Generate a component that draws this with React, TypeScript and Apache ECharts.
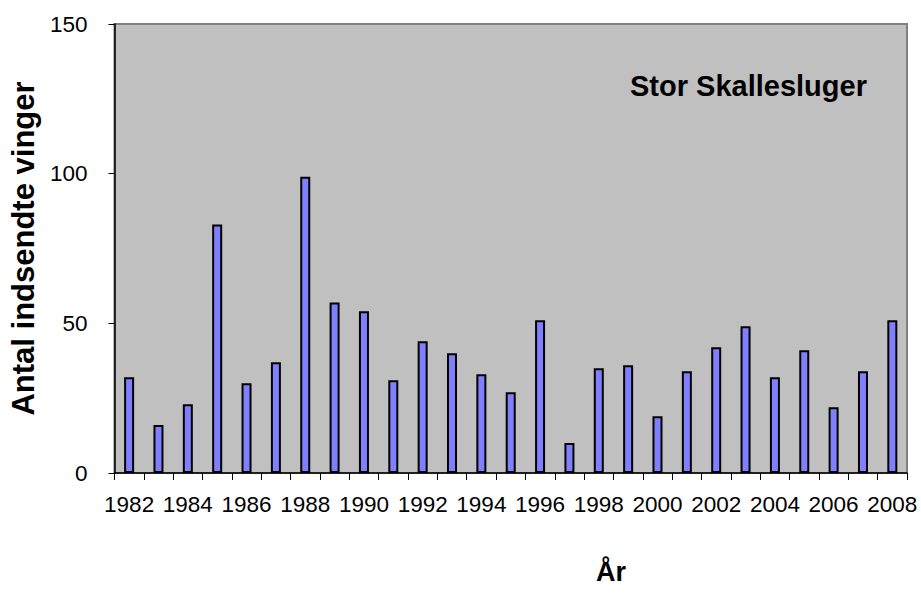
import React, { useEffect, useRef } from "react";
import * as echarts from "echarts";

const years: string[] = [
  "1982", "1983", "1984", "1985", "1986", "1987", "1988", "1989", "1990",
  "1991", "1992", "1993", "1994", "1995", "1996", "1997", "1998", "1999",
  "2000", "2001", "2002", "2003", "2004", "2005", "2006", "2007", "2008",
];
const wings: number[] = [
  32, 16, 23, 83, 30, 37, 99, 57, 54,
  31, 44, 40, 33, 27, 51, 10, 35, 36,
  19, 34, 42, 49, 32, 41, 22, 34, 51,
];
const yTicks = { min: 0, max: 150, interval: 50 };
const chartTitle = "Stor Skallesluger";
const yName = "Antal indsendte vinger";
const xName = "År";

const FONT = 'Arial, "Liberation Sans", sans-serif';

export default function App() {
  const ref = useRef<HTMLDivElement>(null);
  useEffect(() => {
    if (!ref.current) return;
    const chart = echarts.init(ref.current, null, { renderer: "svg" });
    chart.setOption({
      animation: false,
      backgroundColor: "#ffffff",
      textStyle: { fontFamily: FONT },
      grid: {
        left: 113,
        right: 14,
        top: 24,
        bottom: 129,
        show: true,
        backgroundColor: "#c0c0c0",
        borderColor: "#808080",
        borderWidth: 2,
      },
      graphic: [
        {
          type: "text",
          left: 630,
          top: 71,
          style: {
            text: chartTitle,
            fontFamily: FONT,
            fontWeight: "bold",
            fontSize: 29,
            fill: "#000",
          },
        },
        {
          type: "text",
          x: 611,
          y: 572,
          style: {
            text: xName,
            fontFamily: FONT,
            fontWeight: "bold",
            fontSize: 27,
            fill: "#000",
            textAlign: "center",
            textVerticalAlign: "middle",
          },
        },
      ],
      xAxis: {
        type: "category",
        data: years,
        boundaryGap: true,
        axisLine: { show: true, lineStyle: { color: "#000", width: 1.5 } },
        axisTick: {
          show: true,
          alignWithLabel: false,
          interval: 0,
          length: 7,
          lineStyle: { color: "#000", width: 1 },
        },
        axisLabel: {
          interval: 1,
          margin: 20,
          fontSize: 22.5,
          fontFamily: FONT,
          color: "#000",
        },
        splitLine: { show: false },
      },
      yAxis: {
        type: "value",
        min: yTicks.min,
        max: yTicks.max,
        interval: yTicks.interval,
        name: yName,
        nameLocation: "middle",
        nameRotate: 90,
        nameGap: 72,
        nameTextStyle: {
          fontFamily: FONT,
          fontWeight: "bold",
          fontSize: 31,
          color: "#000",
        },
        axisLine: { show: true, lineStyle: { color: "#000", width: 1.5 } },
        axisTick: { show: true, length: 6, lineStyle: { color: "#000", width: 1 } },
        axisLabel: {
          margin: 27,
          fontSize: 22.5,
          fontFamily: FONT,
          color: "#000",
        },
        splitLine: { show: false },
      },
      series: [
        {
          type: "bar",
          data: wings,
          barWidth: 10,
          itemStyle: {
            color: "#8080ff",
            borderColor: "#000",
            borderWidth: 2,
          },
        },
      ],
    });
    return () => chart.dispose();
  }, []);
  return (
    <div
      ref={ref}
      style={{ position: "fixed", left: 0, top: 0, width: 921, height: 602 }}
    />
  );
}
